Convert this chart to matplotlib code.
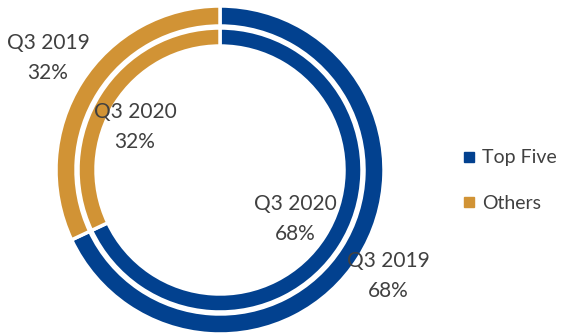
import matplotlib.pyplot as plt
from matplotlib.lines import Line2D

categories = ["Top Five", "Others"]
q3_2019 = [68, 32]
q3_2020 = [68, 32]
colors = ["#02418F", "#D19335"]

plt.rcParams["font.family"] = ["Lato", "DejaVu Sans"]
text_color = "#404040"

fig = plt.figure(figsize=(5.63, 3.33), dpi=100)
ax = fig.add_axes([0, 0, 1, 1])

cx, cy = 220, 163
wedge_style = dict(edgecolor="white", linewidth=2.5)

# outer ring: Q3 2019, inner ring: Q3 2020
ax.pie(q3_2019, colors=colors, startangle=90, counterclock=False,
       radius=164, center=(cx, cy),
       wedgeprops=dict(width=20, **wedge_style))
ax.pie(q3_2020, colors=colors, startangle=90, counterclock=False,
       radius=142, center=(cx, cy),
       wedgeprops=dict(width=18, **wedge_style))

ax.set_xlim(0, 563)
ax.set_ylim(0, 333)
ax.axis("off")

def pct(v):
    return f"{v / sum(q3_2019) * 100:.0f}%"

label_kw = dict(ha="center", va="center", fontsize=15, color=text_color,
                linespacing=1.6)
ax.text(48, 275, f"Q3 2019\n{pct(q3_2019[1])}", **label_kw)
ax.text(135, 206, f"Q3 2020\n{pct(q3_2020[1])}", **label_kw)
ax.text(295, 114, f"Q3 2020\n{pct(q3_2020[0])}", **label_kw)
ax.text(388, 57, f"Q3 2019\n{pct(q3_2019[0])}", **label_kw)

handles = [Line2D([], [], marker="s", linestyle="none", markersize=7,
                  color=c) for c in colors]
ax.legend(handles, categories, loc="center left", bbox_to_anchor=(0.792, 0.458),
          frameon=False, fontsize=14, labelcolor=text_color,
          handlelength=0.6, handletextpad=0.35, labelspacing=1.45)

fig.savefig("out.png", dpi=100)
